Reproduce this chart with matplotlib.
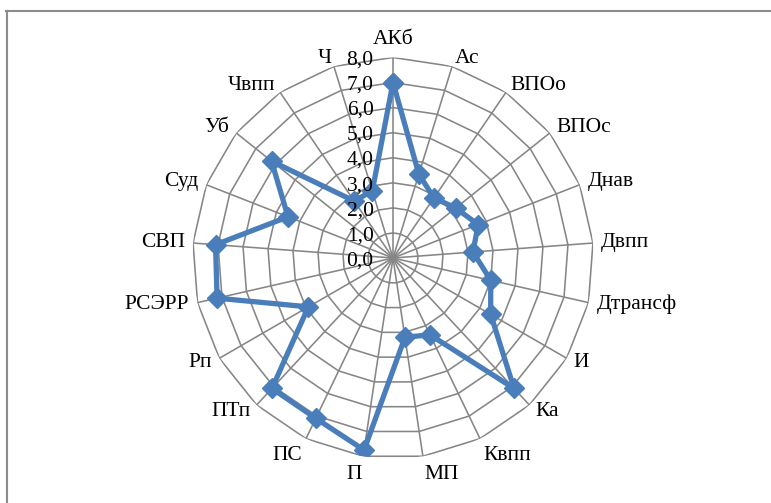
import numpy as np
import matplotlib
matplotlib.use('Agg')
import matplotlib.pyplot as plt
from matplotlib.lines import Line2D

# categories clockwise from the top
cats = ['АКб', 'Ас', 'ВПОо', 'ВПОс', 'Днав', 'Двпп', 'Дтрансф', 'И', 'Ка', 'Квпп',
        'МП', 'П', 'ПС', 'ПТп', 'Рп', 'РСЭРР', 'СВП', 'Суд', 'Уб', 'Чвпп', 'Ч']
vals = [7.0, 3.5, 2.9, 3.2, 3.65, 3.2, 4.0, 4.5, 7.1, 3.4,
        3.2, 7.75, 7.1, 7.1, 3.9, 7.2, 7.1, 4.5, 6.2, 2.75, 2.8]
rticks = [0, 1, 2, 3, 4, 5, 6, 7, 8]
rlabels = ['0,0', '1,0', '2,0', '3,0', '4,0', '5,0', '6,0', '7,0', '8,0']

plt.rcParams['font.family'] = ['Liberation Serif', 'DejaVu Serif']

W, H = 771, 503
fig = plt.figure(figsize=(W / 100, H / 100), dpi=100)

# chart area border (only top and left visible)
fig.add_artist(Line2D([6 / W, 1], [1 - 10.5 / H, 1 - 10.5 / H], color='#8c8c8c', lw=1.5))
fig.add_artist(Line2D([6.5 / W, 6.5 / W], [0, 1 - 10.5 / H], color='#8c8c8c', lw=1.5))

cx, cy, R = 393, 258, 200.5
ax = fig.add_axes([(cx - R) / W, (H - cy - R) / H, 2 * R / W, 2 * R / H], projection='polar')
ax.set_theta_zero_location('N')
ax.set_theta_direction(-1)
ax.set_ylim(0, 8)
ax.grid(False)
ax.set_xticks([])
ax.set_yticks([])
ax.spines['polar'].set_visible(False)
ax.patch.set_alpha(0)

n = len(cats)
theta = np.arange(n) * 2 * np.pi / n
tc = np.append(theta, theta[0])

grid_col = '#868686'
for k in rticks[1:]:
    ax.plot(tc, [k] * (n + 1), color=grid_col, lw=1.15, zorder=1)
for t in theta:
    ax.plot([t, t], [0, 8], color=grid_col, lw=1.15, zorder=1)

vc = vals + [vals[0]]
ax.plot(tc, vc, color='#4A7EBB', lw=3.8, marker='D', ms=10, zorder=3)

# radial value labels
for r, lab in zip(rticks, rlabels):
    ax.annotate(lab, xy=(0, r), xytext=(-14, -2), textcoords='offset points',
                ha='right', va='center', fontsize=15.5, annotation_clip=False)

# category labels
for t, lab in zip(theta, cats):
    s, c = np.sin(t), np.cos(t)
    if abs(s) < 0.05:
        ha = 'center'
    elif s > 0:
        ha = 'left'
    else:
        ha = 'right'
    if c > 0.99:
        va = 'bottom'
    elif c < -0.85:
        va = 'top'
    else:
        va = 'center'
    ax.annotate(lab, xy=(t, 8), xytext=(6 * s, 6 * c), textcoords='offset points',
                ha=ha, va=va, fontsize=15.5, annotation_clip=False)

fig.savefig('out.png', dpi=100)
